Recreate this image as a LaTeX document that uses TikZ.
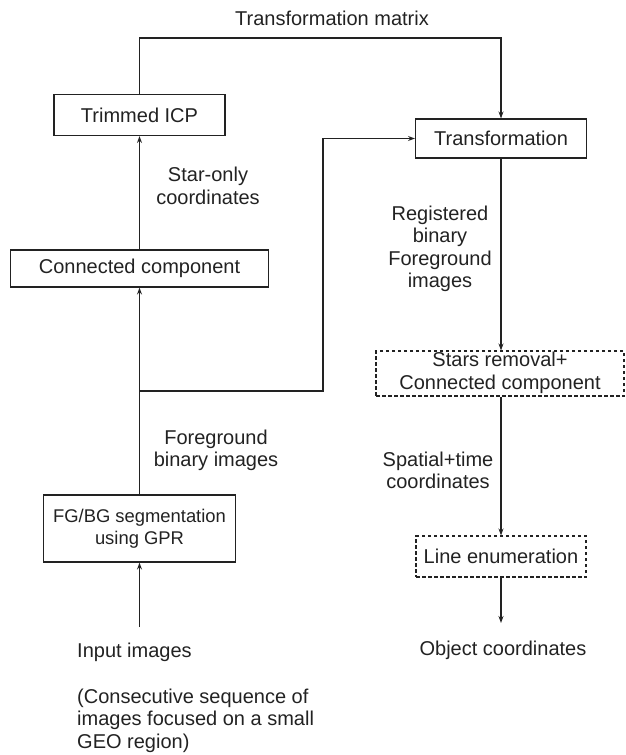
\documentclass[tikz,border=0pt]{standalone}
\usepackage{fontspec}
\setmainfont{Liberation Sans}
\usetikzlibrary{arrows.meta}
\definecolor{ink}{HTML}{222222}
\tikzset{
  box/.style={draw=ink, line width=1.1pt, text=ink, inner sep=0pt, align=center, font=\fontsize{20}{22.5}\selectfont},
  dbox/.style={box, dash pattern=on 3.5pt off 2.5pt},
  lbl/.style={text=ink, inner sep=0pt, align=center, font=\fontsize{20}{22.5}\selectfont},
  arr/.style={draw=ink, line width=1.1pt, -{Stealth[length=7pt,width=5pt]}},
  ln/.style={draw=ink, line width=1.1pt}
}
\begin{document}
\begin{tikzpicture}[x=1pt,y=-1pt]
\useasboundingbox (0,0) rectangle (626,755);
% boxes
\node[box, minimum width=171pt, minimum height=41pt] (icp) at (139.5,115) {Trimmed ICP};
\node[box, minimum width=258pt, minimum height=37pt] (cc) at (139.5,268.5) {Connected component};
\node[box, minimum width=192pt, minimum height=67pt, font=\fontsize{18.4}{22.5}\selectfont] (fg) at (139.5,528.5) {FG/BG segmentation\\using GPR};
\node[box, minimum width=171pt, minimum height=39pt] (tr) at (501,138.5) {Transformation};
\node[dbox, minimum width=248pt, minimum height=43pt] (sr) at (500,373.5) {\raisebox{-3pt}{\begin{tabular}{@{}c@{}}Stars removal+\\Connected component\end{tabular}}};
\node[dbox, minimum width=170pt, minimum height=41pt] (le) at (501,556.5) {Line enumeration};
% labels
\node[lbl] (lbtm) at (332,18) {Transformation matrix};
\node[lbl] (lbso) at (208,186) {Star-only\\coordinates};
\node[lbl] (lbrb) at (440,249) {Registered\\binary\\Foreground\\images};
\node[lbl] (lbfb) at (216,450.5) {Foreground\\binary images};
\node[lbl] (lbst) at (438,470.5) {Spatial+time\\coordinates};
\node[lbl, anchor=west] (inp) at (77,652) {Input images};
\node[lbl, anchor=west, align=left] (seq) at (77,720.5) {(Consecutive sequence of\\images focused on a small\\GEO region)};
\node[lbl] (obj) at (503,650) {Object coordinates};
% coordinates
\coordinate (tmy) at (0,38);
\coordinate (fbx) at (323,391);
\coordinate (in0) at (139.5,627);
\coordinate (out0) at (501,623);
% connectors
\draw[arr] (in0) -- (fg.south);
\draw[arr] (fg.north) -- (cc.south);
\draw[arr] (cc.north) -- (icp.south);
\draw[arr] (icp.north) -- (icp.north |- tmy) -| (tr.north);
\draw[arr] (fbx -| fg.north) -- (fbx) |- (tr.west);
\draw[arr] (tr.south) -- (tr.south |- sr.north);
\draw[arr] (sr.south -| le.north) -- (le.north);
\draw[arr] (le.south) -- (out0);
\end{tikzpicture}
\end{document}
